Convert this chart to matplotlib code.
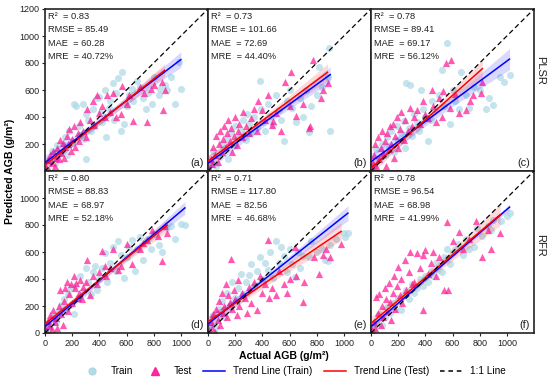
import numpy as np
import matplotlib
matplotlib.use("Agg")
import matplotlib.pyplot as plt
from matplotlib.lines import Line2D

plt.rcParams['font.family'] = ['Liberation Sans', 'DejaVu Sans']

panel_tags = ["(a)", "(b)", "(c)", "(d)", "(e)", "(f)"]
row_labels = ["PLSR", "RFR"]

r2 = ["0.83", "0.73", "0.78", "0.80", "0.71", "0.78"]
rmse = ["85.49", "101.66", "89.41", "88.83", "117.80", "96.54"]
mae = ["60.28", "72.69", "69.17", "68.97", "82.56", "68.98"]
mre = ["40.72%", "44.40%", "56.12%", "52.18%", "46.68%", "41.99%"]

# trend line coefficients: (intercept, slope)
trend_train = [(62, 0.763), (57, 0.730), (69, 0.745), (47, 0.854), (67, 0.797), (47, 0.868)]
trend_test = [(44, 0.797), (74, 0.747), (20, 0.900), (67, 0.813), (84, 0.682), (72, 0.846)]

# ---- panel (a)
a_train_x = [30, 50, 70, 90, 110, 130, 150, 160, 180, 200, 210, 230, 250, 260, 280, 290, 300, 300, 320, 340, 350, 360, 380, 400, 410, 420, 440, 450, 470, 480, 500, 510, 520, 540, 560, 570, 580, 600, 620, 640, 650, 680, 700, 720, 740, 760, 790, 800, 840, 850, 880, 900, 930, 960, 985, 1000]
a_train_y = [80, 150, 60, 190, 140, 200, 250, 120, 300, 210, 500, 480, 330, 270, 500, 240, 420, 90, 380, 300, 460, 330, 540, 550, 430, 360, 600, 250, 470, 520, 650, 380, 580, 690, 300, 730, 350, 480, 560, 610, 520, 670, 620, 540, 460, 580, 500, 700, 560, 610, 640, 600, 700, 500, 810, 610]
a_test_x = [10, 20, 30, 40, 50, 60, 70, 80, 90, 100, 110, 120, 130, 140, 150, 160, 170, 180, 190, 200, 210, 220, 240, 250, 260, 280, 300, 310, 330, 350, 360, 380, 400, 420, 440, 460, 480, 500, 520, 560, 570, 600, 620, 650, 700, 730, 750, 780, 800, 860, 870, 880]
a_test_y = [30, 80, 10, 120, 60, 150, 40, 100, 170, 90, 230, 130, 210, 100, 180, 260, 200, 310, 150, 240, 330, 180, 280, 220, 360, 300, 250, 460, 380, 520, 340, 560, 430, 480, 400, 560, 440, 580, 400, 420, 630, 500, 560, 370, 620, 580, 360, 610, 640, 660, 450, 600]

# ---- panel (b)
b_train_x = [20, 40, 60, 80, 100, 120, 140, 150, 170, 190, 200, 220, 240, 260, 280, 290, 300, 320, 340, 360, 380, 390, 400, 420, 440, 460, 480, 500, 520, 540, 560, 580, 600, 620, 650, 680, 700, 720, 740, 760, 800, 820, 840, 880, 890, 900]
b_train_y = [60, 150, 40, 110, 200, 170, 240, 90, 280, 190, 330, 250, 300, 380, 230, 420, 350, 280, 400, 320, 670, 460, 360, 300, 500, 410, 340, 560, 450, 380, 220, 520, 600, 470, 360, 540, 400, 600, 290, 480, 560, 770, 620, 700, 910, 300]
b_test_x = [10, 20, 30, 40, 50, 60, 70, 80, 90, 100, 110, 120, 130, 140, 150, 160, 170, 180, 190, 200, 210, 220, 230, 250, 260, 280, 300, 320, 340, 360, 370, 400, 420, 440, 470, 480, 500, 540, 570, 600, 610, 650, 700, 740, 750, 770, 830, 850, 880]
b_test_y = [20, 90, 50, 180, 120, 260, 70, 200, 300, 140, 240, 330, 180, 280, 380, 220, 320, 140, 260, 400, 190, 300, 350, 250, 440, 330, 280, 390, 460, 300, 520, 450, 380, 560, 340, 370, 430, 300, 660, 480, 730, 410, 500, 320, 330, 820, 540, 600, 650]

# ---- panel (c)
c_train_x = [20, 40, 60, 80, 100, 120, 130, 150, 170, 190, 200, 220, 240, 250, 260, 280, 290, 300, 320, 340, 350, 370, 380, 400, 420, 440, 450, 470, 500, 520, 540, 560, 580, 600, 620, 650, 660, 700, 720, 760, 800, 850, 870, 900, 950, 980, 1020]
c_train_y = [40, 160, 90, 200, 120, 250, 180, 300, 140, 330, 230, 280, 370, 170, 650, 320, 640, 260, 420, 360, 300, 600, 460, 400, 220, 380, 520, 460, 560, 750, 480, 950, 350, 600, 520, 460, 730, 560, 470, 620, 600, 460, 540, 490, 700, 660, 710]
c_test_x = [10, 15, 20, 30, 40, 50, 60, 70, 80, 90, 100, 110, 120, 130, 140, 150, 160, 170, 180, 190, 200, 210, 220, 240, 250, 270, 290, 300, 320, 340, 360, 380, 400, 420, 450, 460, 480, 500, 520, 530, 550, 580, 590, 620, 650, 700, 730, 750, 810, 820]
c_test_y = [10, 60, 120, 200, 40, 250, 90, 170, 300, 130, 220, 40, 280, 160, 330, 200, 350, 100, 260, 400, 170, 310, 440, 230, 380, 300, 470, 330, 400, 450, 350, 520, 420, 390, 600, 480, 360, 540, 400, 590, 800, 470, 820, 570, 430, 450, 520, 560, 580, 660]

# ---- panel (d)
d_train_x = [30, 60, 80, 100, 120, 140, 150, 170, 190, 210, 220, 240, 260, 280, 300, 320, 340, 350, 370, 380, 400, 420, 440, 460, 480, 500, 520, 540, 560, 580, 600, 620, 640, 660, 680, 700, 720, 750, 780, 800, 840, 860, 900, 930, 960, 1000, 1030]
d_train_y = [40, 120, 80, 160, 210, 250, 180, 290, 330, 140, 350, 260, 420, 310, 480, 380, 290, 450, 500, 320, 400, 480, 590, 380, 520, 640, 460, 680, 580, 410, 560, 640, 690, 460, 620, 710, 540, 700, 620, 730, 650, 600, 780, 790, 700, 810, 800]
d_test_x = [10, 20, 30, 40, 50, 60, 70, 80, 90, 100, 110, 120, 130, 140, 150, 160, 170, 180, 190, 200, 210, 220, 230, 240, 250, 260, 270, 280, 300, 310, 330, 350, 380, 400, 420, 440, 450, 480, 500, 540, 560, 600, 640, 700, 720, 750, 790, 830, 860, 880, 900]
d_test_y = [20, 90, 50, 130, 30, 170, 80, 110, 40, 200, 320, 140, 60, 240, 330, 380, 160, 290, 360, 220, 420, 330, 370, 260, 300, 390, 250, 340, 380, 540, 280, 420, 360, 450, 610, 500, 420, 480, 620, 470, 500, 660, 510, 620, 670, 690, 760, 720, 530, 790, 740]

# ---- panel (e)
e_train_x = [20, 40, 60, 80, 100, 120, 140, 160, 180, 200, 220, 240, 260, 280, 300, 320, 340, 360, 380, 400, 420, 440, 460, 480, 500, 520, 540, 560, 580, 600, 620, 640, 660, 680, 700, 740, 760, 800, 840, 860, 880, 900, 940, 1000, 1010, 1030]
e_train_y = [60, 130, 40, 180, 240, 120, 300, 200, 380, 260, 330, 440, 290, 380, 430, 510, 350, 460, 560, 400, 520, 470, 600, 410, 680, 520, 640, 570, 450, 620, 510, 415, 600, 480, 570, 560, 680, 600, 620, 540, 530, 650, 700, 740, 710, 740]
e_test_x = [10, 20, 30, 40, 50, 60, 70, 80, 90, 100, 110, 120, 130, 140, 150, 160, 170, 180, 190, 200, 210, 220, 230, 250, 270, 290, 300, 320, 340, 360, 380, 400, 420, 440, 450, 470, 500, 520, 560, 580, 600, 640, 650, 700, 710, 780, 820, 850, 870, 900, 980]
e_test_y = [20, 80, 40, 140, 10, 180, 100, 240, 60, 300, 150, 200, 360, 120, 280, 230, 550, 180, 320, 250, 130, 390, 200, 300, 260, 150, 340, 220, 380, 168, 420, 300, 360, 686, 260, 330, 280, 460, 366, 300, 400, 637, 420, 230, 380, 560, 440, 580, 620, 560, 660]

# ---- panel (f)
f_train_x = [20, 40, 60, 80, 100, 120, 140, 160, 180, 200, 220, 240, 260, 280, 300, 320, 340, 360, 380, 400, 420, 440, 460, 480, 500, 520, 540, 560, 580, 600, 620, 640, 680, 700, 720, 760, 780, 820, 860, 880, 900, 960, 1000, 1020]
f_train_y = [30, 90, 140, 60, 120, 190, 150, 220, 180, 260, 170, 290, 320, 250, 360, 300, 330, 400, 350, 420, 380, 460, 420, 520, 470, 450, 560, 620, 510, 600, 620, 660, 580, 700, 620, 640, 780, 720, 790, 760, 840, 830, 870, 890]
f_test_x = [10, 20, 30, 40, 50, 60, 70, 80, 90, 100, 110, 120, 130, 140, 150, 160, 170, 180, 190, 200, 210, 220, 230, 250, 260, 280, 290, 300, 320, 340, 360, 380, 385, 400, 420, 440, 460, 480, 500, 540, 560, 570, 600, 650, 680, 720, 770, 820, 860, 880, 950]
f_test_y = [20, 80, 40, 270, 150, 290, 60, 200, 120, 330, 250, 160, 370, 230, 100, 300, 420, 180, 350, 490, 280, 400, 220, 540, 320, 450, 600, 360, 380, 589, 480, 580, 168, 612, 440, 520, 600, 420, 560, 316, 824, 318, 680, 750, 620, 700, 830, 560, 760, 620, 740]

train_sets = [(a_train_x, a_train_y), (b_train_x, b_train_y), (c_train_x, c_train_y),
              (d_train_x, d_train_y), (e_train_x, e_train_y), (f_train_x, f_train_y)]
test_sets = [(a_test_x, a_test_y), (b_test_x, b_test_y), (c_test_x, c_test_y),
             (d_test_x, d_test_y), (e_test_x, e_test_y), (f_test_x, f_test_y)]

C_TRAIN = '#ADD8E6'
C_TEST = '#FF1493'


def trend_band(ax, x, y, coef, color):
    x = np.asarray(x, float)
    y = np.asarray(y, float)
    b0, b1 = coef
    xs = np.linspace(0, x.max(), 100)
    ys = b0 + b1 * xs
    n = len(x)
    res = y - (b0 + b1 * x)
    s = np.sqrt(np.sum(res ** 2) / (n - 2))
    sxx = np.sum((x - x.mean()) ** 2)
    half = 1.97 * s * np.sqrt(1.0 / n + (xs - x.mean()) ** 2 / sxx) * 0.75
    ax.fill_between(xs, ys - half, ys + half, color=color, alpha=0.15, lw=0, zorder=3)
    ax.plot(xs, ys, color=color, lw=1.1, zorder=4)


fig = plt.figure(figsize=(5.5, 3.84), dpi=100)
L, R, T, B = 45 / 550, 534 / 550, 1 - 9 / 384, 1 - 333 / 384
gs = fig.add_gridspec(2, 3, left=L, right=R, top=T, bottom=B, wspace=0, hspace=0)

for i in range(6):
    r, c = divmod(i, 3)
    ax = fig.add_subplot(gs[r, c])
    tx, ty = train_sets[i]
    sx, sy = test_sets[i]
    ax.scatter(tx, ty, s=26, marker='o', color=C_TRAIN, alpha=0.7, lw=0, zorder=1)
    ax.scatter(sx, sy, s=27, marker='^', color=C_TEST, alpha=0.7, lw=0, zorder=2)
    trend_band(ax, tx, ty, trend_train[i], 'blue')
    trend_band(ax, sx, sy, trend_test[i], 'red')
    ax.plot([0, 1200], [0, 1200], color='black', ls=(0, (4, 2.5)), lw=0.9, zorder=5)
    ax.set_xlim(0, 1200)
    ax.set_ylim(0, 1200)
    for sp in ax.spines.values():
        sp.set_linewidth(1.2)
        sp.set_color('#222222')
    ax.tick_params(direction='out', length=2.5, width=0.8, labelsize=6.5,
                   colors='#222222', pad=1.5)
    if r == 0:
        ax.set_yticks([200, 400, 600, 800, 1000, 1200])
        ax.set_xticks([])
    else:
        ax.set_yticks([0, 200, 400, 600, 800, 1000])
        ax.set_xticks([0, 200, 400, 600, 800, 1000])
    if c != 0:
        ax.set_yticks([])
    lines = ["R\u00b2  = " + r2[i], "RMSE = " + rmse[i], "MAE  = " + mae[i], "MRE  = " + mre[i]]
    for k, txt in enumerate(lines):
        ax.text(0.018, 0.954 - k * 0.0822, txt, transform=ax.transAxes, fontsize=6.7,
                va='center', ha='left', color='#222222', zorder=6)
    ax.text(0.975, 0.05, panel_tags[i], transform=ax.transAxes, fontsize=7.9,
            ha='right', va='center', color='#222222', zorder=6)

fig.text(540 / 550, 1 - 70 / 384, row_labels[0], rotation=270, fontsize=8,
         ha='center', va='center', color='#222222')
fig.text(540 / 550, 1 - 245 / 384, row_labels[1], rotation=270, fontsize=8,
         ha='center', va='center', color='#222222')
fig.text(10 / 550, 1 - 171 / 384, "Predicted AGB (g/m\u00b2)", rotation=90, fontsize=7.6,
         fontweight='bold', ha='center', va='center')
fig.text(284 / 550, 1 - 356 / 384, "Actual AGB (g/m\u00b2)", fontsize=7.6,
         fontweight='bold', ha='center', va='center')

handles = [
    Line2D([], [], ls='none', marker='o', markersize=5, color=C_TRAIN, alpha=0.9),
    Line2D([], [], ls='none', marker='^', markersize=5.5, color=C_TEST, alpha=0.9),
    Line2D([], [], color='blue', lw=1.1),
    Line2D([], [], color='red', lw=1.1),
    Line2D([], [], color='black', lw=1.1, ls=(0, (3, 2.5))),
]
labels = ["Train", "Test", "Trend Line (Train)", "Trend Line (Test)", "1:1 Line"]
fig.legend(handles, labels, loc='center', bbox_to_anchor=(293 / 550, 1 - 371 / 384),
           ncol=5, frameon=False, fontsize=7.2, handlelength=2.2, handletextpad=0.8,
           columnspacing=1.1, borderpad=0)

fig.savefig("out.png", dpi=100)
